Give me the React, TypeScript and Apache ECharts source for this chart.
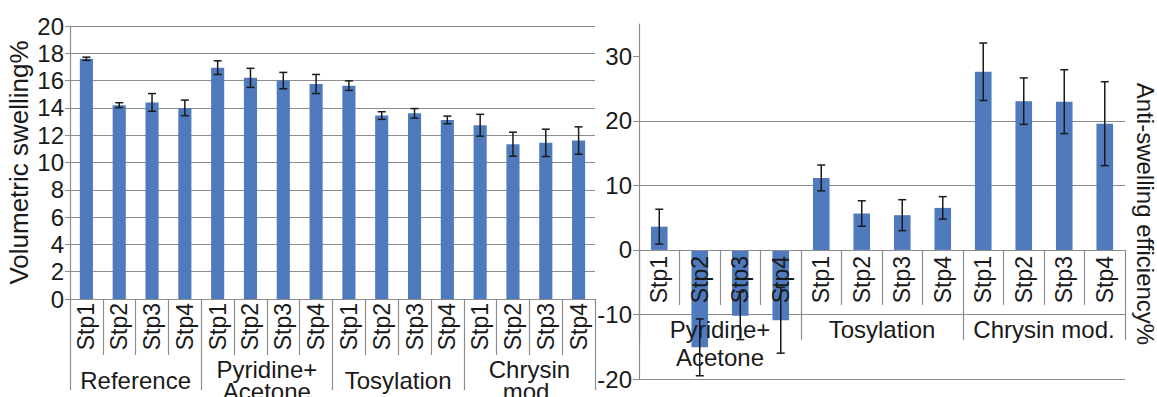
import { useEffect, useRef } from "react";
import * as echarts from "echarts";

const stepLabels = ["Stp1", "Stp2", "Stp3", "Stp4"];

const leftCategories = [...stepLabels, ...stepLabels, ...stepLabels, ...stepLabels];
const leftGroups = ["Reference", "Pyridine+\nAcetone", "Tosylation", "Chrysin\nmod."];
const leftValues = [17.6, 14.2, 14.4, 14.0, 16.95, 16.2, 16.0, 15.75, 15.63, 13.44, 13.6, 13.12, 12.73, 11.34, 11.44, 11.61];
const leftErrors = [0.12, 0.18, 0.65, 0.57, 0.5, 0.7, 0.6, 0.7, 0.35, 0.28, 0.35, 0.28, 0.8, 0.88, 1.0, 1.0];
const leftTitle = "Volumetric swelling%";

const rightCategories = [...stepLabels, ...stepLabels, ...stepLabels];
const rightGroups = ["Pyridine+\nAcetone", "Tosylation", "Chrysin mod."];
const rightValues = [3.6, -15.1, -10.2, -10.9, 11.15, 5.64, 5.38, 6.51, 27.6, 23.05, 22.97, 19.56];
const rightErrors = [2.7, 4.4, 3.7, 5.1, 2.0, 1.97, 2.4, 1.74, 4.45, 3.6, 4.95, 6.5];
const rightTitle = "Anti-swelling efficiency%";
const rightTickValues = [-20, -10, 0, 10, 20, 30];
const rightMin = -20;
const rightMax = 35;

const FONT = "Liberation Sans, Arial, sans-serif";
const TEXT = "#1a1a1a";
const GRAY = "#8c8c8c";
const BAR = "#4F7BBE";

// right grid geometry
const R_TOP = 24;
const R_HEIGHT = 355;
const zeroOffset = -(R_HEIGHT * (0 - rightMin)) / (rightMax - rightMin); // shift from grid bottom to value 0

const errorData = (vals: number[], errs: number[]) =>
  vals.map((v, i) => [i, v - errs[i], v + errs[i]]);

const renderError = (_params: any, api: any) => {
  const x = api.value(0);
  const lo = api.coord([x, api.value(1)]);
  const hi = api.coord([x, api.value(2)]);
  const w = 4;
  const style = { stroke: "#1a1a1a", lineWidth: 1.5 };
  return {
    type: "group",
    children: [
      { type: "line", shape: { x1: hi[0], y1: hi[1], x2: lo[0], y2: lo[1] }, style },
      { type: "line", shape: { x1: hi[0] - w, y1: hi[1], x2: hi[0] + w, y2: hi[1] }, style },
      { type: "line", shape: { x1: lo[0] - w, y1: lo[1], x2: lo[0] + w, y2: lo[1] }, style },
    ],
  };
};

export default function App() {
  const ref = useRef<HTMLDivElement>(null);
  useEffect(() => {
    if (!ref.current) return;
    const chart = echarts.init(ref.current, undefined, { renderer: "svg" });
    const option: any = {
      animation: false,
      backgroundColor: "#ffffff",
      textStyle: { fontFamily: FONT },
      grid: [
        { left: 70, top: 26, width: 525, height: 273, outerBoundsMode: "none" },
        { left: 639, top: R_TOP, width: 486, height: R_HEIGHT, outerBoundsMode: "none" },
      ],
      xAxis: [
        {
          type: "category",
          gridIndex: 0,
          data: leftCategories,
          position: "bottom",
          axisLine: { show: true, lineStyle: { color: GRAY, width: 1.2 } },
          axisTick: { show: true, interval: 0, length: 56, lineStyle: { color: GRAY, width: 1.2 } },
          axisLabel: { interval: 0, rotate: 90, margin: 4, fontSize: 23, color: TEXT, fontFamily: FONT },
          splitLine: { show: false },
        },
        {
          type: "category",
          gridIndex: 0,
          data: leftGroups,
          position: "bottom",
          offset: 56,
          axisLine: { show: false },
          axisTick: { show: true, interval: 0, length: 35, lineStyle: { color: GRAY, width: 1.2 } },
          axisLabel: { interval: 0, margin: 25, verticalAlign: "middle", lineHeight: 22, fontSize: 24, color: TEXT, fontFamily: FONT },
          splitLine: { show: false },
        },
        {
          type: "category",
          gridIndex: 1,
          data: rightCategories,
          position: "bottom",
          offset: zeroOffset,
          z: 5,
          axisLine: { show: true, onZero: false, lineStyle: { color: GRAY, width: 1.2 } },
          axisTick: { show: true, interval: 0, length: 55, lineStyle: { color: GRAY, width: 1.2 } },
          axisLabel: { interval: 0, rotate: 90, margin: 6, fontSize: 23, color: TEXT, fontFamily: FONT },
          splitLine: { show: false },
        },
        {
          type: "category",
          gridIndex: 1,
          data: rightGroups,
          position: "bottom",
          offset: zeroOffset + 55,
          z: 5,
          axisLine: { show: false, onZero: false },
          axisTick: { show: true, interval: 0, length: 35, lineStyle: { color: GRAY, width: 1.2 } },
          axisLabel: { interval: 0, margin: 11, verticalAlign: "top", lineHeight: 28, fontSize: 24, color: TEXT, fontFamily: FONT },
          splitLine: { show: false },
        },
      ],
      yAxis: [
        {
          type: "value",
          gridIndex: 0,
          min: 0,
          max: 20,
          interval: 2,
          name: leftTitle,
          nameLocation: "middle",
          nameGap: 38,
          nameRotate: 90,
          nameTextStyle: { fontSize: 26, color: TEXT, fontFamily: FONT },
          axisLine: { show: true, lineStyle: { color: GRAY, width: 1.2 } },
          axisTick: { show: true, length: 5, lineStyle: { color: GRAY } },
          axisLabel: { fontSize: 24, color: TEXT, margin: 6, fontFamily: FONT },
          splitLine: { show: true, lineStyle: { color: GRAY, width: 1.2 } },
        },
        {
          type: "value",
          gridIndex: 1,
          min: rightMin,
          max: rightMax,
          interval: 10,
          axisLine: { show: true, onZero: false, lineStyle: { color: GRAY, width: 1.2 } },
          axisTick: { show: true, length: 6, customValues: rightTickValues, lineStyle: { color: GRAY } },
          axisLabel: { fontSize: 24, color: TEXT, margin: 7, showMaxLabel: false, fontFamily: FONT },
          splitLine: { show: true, showMaxLine: false, lineStyle: { color: GRAY, width: 1.2 } },
        },
      ],
      graphic: [
        {
          type: "text",
          x: 1145,
          y: 214,
          rotation: -Math.PI / 2,
          style: {
            text: rightTitle,
            fontSize: 24,
            fontFamily: FONT,
            fill: TEXT,
            textAlign: "center",
            textVerticalAlign: "middle",
          },
        },
      ],
      series: [
        {
          type: "bar",
          xAxisIndex: 0,
          yAxisIndex: 0,
          data: leftValues,
          barCategoryGap: "60%",
          itemStyle: { color: BAR },
        },
        {
          type: "custom",
          xAxisIndex: 0,
          yAxisIndex: 0,
          data: errorData(leftValues, leftErrors),
          encode: { x: 0, y: [1, 2] },
          renderItem: renderError,
          clip: false,
          z: 10,
        },
        {
          type: "bar",
          xAxisIndex: 2,
          yAxisIndex: 1,
          data: rightValues,
          barCategoryGap: "59%",
          itemStyle: { color: BAR },
        },
        {
          type: "custom",
          xAxisIndex: 2,
          yAxisIndex: 1,
          data: errorData(rightValues, rightErrors),
          encode: { x: 0, y: [1, 2] },
          renderItem: renderError,
          clip: false,
          z: 10,
        },
      ],
    };
    chart.setOption(option);
    return () => chart.dispose();
  }, []);
  return (
    <div
      ref={ref}
      style={{ position: "absolute", left: 0, top: 0, width: 1157, height: 397 }}
    />
  );
}
